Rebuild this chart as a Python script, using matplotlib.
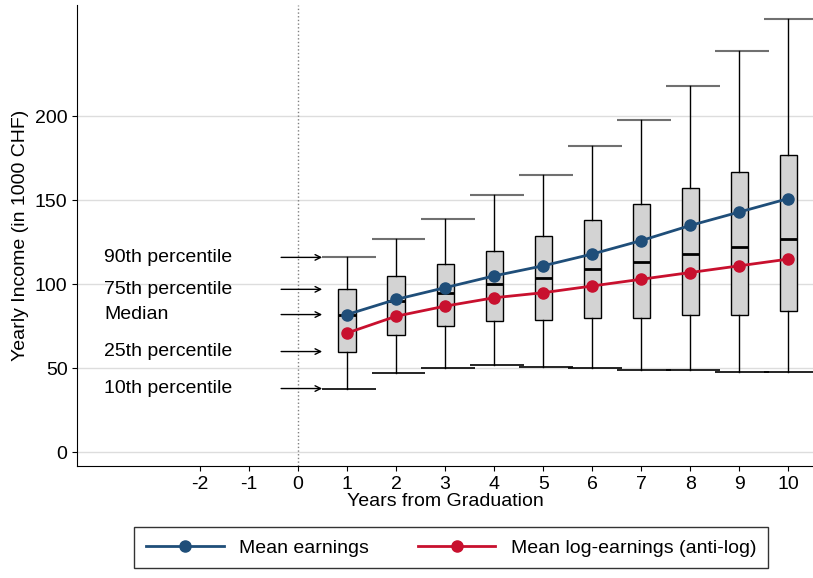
import numpy as np
import matplotlib.pyplot as plt

plt.rcParams['font.family'] = ['Liberation Sans', 'DejaVu Sans']

years = [1, 2, 3, 4, 5, 6, 7, 8, 9, 10]
p10 = [38, 47, 50, 52, 51, 50, 49, 49, 48, 48]
p25 = [60, 70, 75, 78, 79, 80, 80, 82, 82, 84]
median = [82, 90, 95, 100, 104, 109, 113, 118, 122, 127]
p75 = [97, 105, 112, 120, 129, 138, 148, 157, 167, 177]
p90 = [116, 127, 139, 153, 165, 182, 198, 218, 239, 258]
mean_earn = [82, 91, 98, 105, 111, 118, 126, 135, 143, 151]
mean_log = [71, 81, 87, 92, 95, 99, 103, 107, 111, 115]

labels = ["90th percentile", "75th percentile", "Median", "25th percentile", "10th percentile"]
label_y = [116, 97, 82, 60, 38]

fig = plt.figure(figsize=(8.13, 5.78), dpi=100)
ax = fig.add_axes([0.095, 0.194, 0.905, 0.797])

stats = []
for i in range(len(years)):
    stats.append({'whislo': p10[i], 'q1': p25[i], 'med': median[i], 'q3': p75[i],
                  'whishi': p90[i], 'fliers': []})
ax.bxp(stats, positions=years, widths=0.35, patch_artist=True, showcaps=False,
       manage_ticks=False,
       boxprops=dict(facecolor='#d3d3d3', edgecolor='black', linewidth=1),
       medianprops=dict(color='black', linewidth=2),
       whiskerprops=dict(color='black', linewidth=1), zorder=2)
# wide caps
for i, x in enumerate(years):
    ax.hlines(p90[i], x - 0.5, x + 0.6, color='#707070', linewidth=1.5, zorder=1)
    ax.hlines(p10[i], x - 0.5, x + 0.6, color='black', linewidth=1.2, zorder=1)

ax.plot(years, mean_earn, color='#1f4e79', marker='o', markersize=8, linewidth=2,
        label='Mean earnings', zorder=3)
ax.plot(years, mean_log, color='#c8102e', marker='o', markersize=8, linewidth=2,
        label='Mean log-earnings (anti-log)', zorder=3)

for lab, y in zip(labels, label_y):
    ax.text(-3.95, y, lab, fontsize=14, va='center', ha='left')
    ax.annotate('', xy=(0.55, y), xytext=(-0.4, y),
                arrowprops=dict(arrowstyle='->', color='black', lw=1))

ax.axvline(0, color='gray', linestyle=':', linewidth=1)
ax.set_xlim(-4.5, 10.5)
ax.set_ylim(-8, 266)
ax.set_xticks(range(-2, 11))
ax.set_xticklabels([str(v) for v in range(-2, 11)])
ax.set_yticks([0, 50, 100, 150, 200])
ax.yaxis.grid(True, color='#dddddd', linewidth=1)
ax.set_axisbelow(True)
ax.tick_params(labelsize=14)
ax.set_xlabel('Years from Graduation', fontsize=14, labelpad=0)
ax.set_ylabel('Yearly Income (in 1000 CHF)', fontsize=14)
for s in ['top', 'right']:
    ax.spines[s].set_visible(False)

fig.legend(loc='lower center', bbox_to_anchor=(0.555, 0.0), ncol=2, fontsize=14,
           frameon=True, fancybox=False, edgecolor='black', columnspacing=2.5,
           handlelength=4, borderpad=0.6)
fig.savefig('out.png', dpi=100)
